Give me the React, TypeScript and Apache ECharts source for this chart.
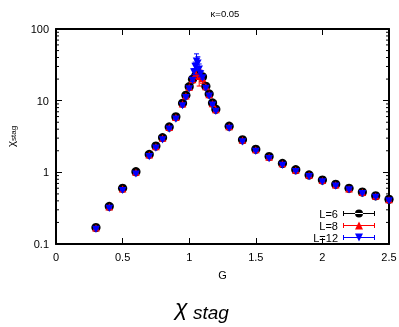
import React, { useEffect, useRef } from "react";
import * as echarts from "echarts";

// ---- data ----
const G_L6 = [0.3, 0.4, 0.5, 0.6, 0.7, 0.75, 0.8, 0.85, 0.9, 0.95, 0.975, 1.0, 1.025, 1.05, 1.075, 1.1, 1.125, 1.15, 1.175, 1.2, 1.3, 1.4, 1.5, 1.6, 1.7, 1.8, 1.9, 2.0, 2.1, 2.2, 2.3, 2.4, 2.5];
const CHI_L6 = [0.17, 0.335, 0.6, 1.02, 1.78, 2.33, 3.05, 4.3, 5.95, 9.2, 11.9, 15.7, 19.9, 22.5, 23.0, 21.5, 15.9, 12.4, 9.3, 7.6, 4.4, 2.85, 2.1, 1.66, 1.33, 1.09, 0.92, 0.78, 0.68, 0.6, 0.53, 0.47, 0.42];
const ERR_L6 = [0.003, 0.005, 0.008, 0.01, 0.02, 0.02, 0.03, 0.04, 0.06, 0.1, 0.15, 0.2, 0.3, 0.5, 0.6, 0.5, 0.3, 0.2, 0.1, 0.08, 0.04, 0.03, 0.02, 0.02, 0.01, 0.01, 0.01, 0.01, 0.01, 0.01, 0.01, 0.01, 0.01];

const G_L8 = [0.3, 0.4, 0.5, 0.6, 0.7, 0.75, 0.8, 0.85, 0.9, 0.95, 0.975, 1.0, 1.025, 1.05, 1.075, 1.1, 1.125, 1.15, 1.175, 1.2, 1.3, 1.4, 1.5, 1.6, 1.7, 1.8, 1.9, 2.0, 2.1, 2.2, 2.3, 2.4, 2.5];
const CHI_L8 = [0.166, 0.326, 0.58, 0.99, 1.73, 2.26, 2.96, 4.18, 5.78, 8.9, 11.5, 15.2, 19.4, 23.5, 21.5, 20.0, 15.5, 12.0, 9.0, 7.4, 4.28, 2.77, 2.04, 1.61, 1.3, 1.06, 0.9, 0.76, 0.66, 0.58, 0.52, 0.46, 0.41];
const ERR_L8 = [0.004, 0.006, 0.01, 0.02, 0.03, 0.04, 0.05, 0.07, 0.1, 0.2, 0.3, 0.4, 1.0, 3.0, 5.5, 2.5, 0.6, 0.3, 0.2, 0.1, 0.05, 0.03, 0.02, 0.02, 0.01, 0.01, 0.01, 0.01, 0.01, 0.01, 0.01, 0.01, 0.01];

const G_L12 = [0.3, 0.4, 0.5, 0.6, 0.7, 0.75, 0.8, 0.85, 0.9, 0.95, 0.975, 1.0, 1.025, 1.035, 1.045, 1.055, 1.065, 1.075, 1.085, 1.1, 1.125, 1.15, 1.175, 1.2, 1.3, 1.4, 1.5, 1.6, 1.7, 1.8, 1.9, 2.0, 2.1, 2.2, 2.3, 2.4, 2.5];
const CHI_L12 = [0.162, 0.318, 0.565, 0.96, 1.68, 2.2, 2.88, 4.05, 5.6, 8.6, 11.2, 14.8, 19.5, 25.5, 30.5, 36, 34, 28, 24, 21, 15.1, 11.7, 8.8, 7.2, 4.15, 2.7, 1.99, 1.57, 1.27, 1.04, 0.88, 0.745, 0.65, 0.575, 0.51, 0.455, 0.405];
const ERR_L12 = [0.004, 0.006, 0.01, 0.02, 0.03, 0.04, 0.05, 0.07, 0.1, 0.2, 0.3, 0.4, 1.0, 2.5, 4.0, 9.0, 7.0, 4.5, 2.5, 1.0, 0.5, 0.3, 0.2, 0.1, 0.05, 0.03, 0.02, 0.02, 0.01, 0.01, 0.01, 0.01, 0.01, 0.01, 0.01, 0.01, 0.01];

const SERIES_NAMES = ["L=6", "L=8", "L=12"];
const SERIES_COLORS = ["#000000", "#ff0000", "#0000ff"];
const MINOR_TICKS = [0.2, 0.3, 0.4, 0.5, 0.6, 0.7, 0.8, 0.9, 2, 3, 4, 5, 6, 7, 8, 9, 20, 30, 40, 50, 60, 70, 80, 90];
const TITLE = "κ=0.05";

const ICON_CIRCLE = "path://M0 3.5H32V4.5H0Z M0 1.5H1V6.5H0Z M31 1.5H32V6.5H31Z M12 4A4 4 0 1 0 20 4A4 4 0 1 0 12 4Z";
const ICON_UP = "path://M0 3.5H32V4.5H0Z M0 1.5H1V6.5H0Z M31 1.5H32V6.5H31Z M12 8L16 0L20 8Z";
const ICON_DOWN = "path://M0 3.5H32V4.5H0Z M0 1.5H1V6.5H0Z M31 1.5H32V6.5H31Z M12 0L20 0L16 8Z";

type Shape = "circle" | "up" | "down";

function makeRender(shape: Shape, color: string) {
  return (_params: any, api: any) => {
    const x = api.value(0);
    const y = api.value(1);
    const lo = api.value(2);
    const hi = api.value(3);
    const p = api.coord([x, y]);
    const pl = api.coord([x, lo]);
    const ph = api.coord([x, hi]);
    const cap = 2.5;
    const ls = { stroke: color, lineWidth: 1 };
    const children: any[] = [
      { type: "line", shape: { x1: p[0], y1: pl[1], x2: p[0], y2: ph[1] }, style: ls },
      { type: "line", shape: { x1: p[0] - cap, y1: pl[1], x2: p[0] + cap, y2: pl[1] }, style: ls },
      { type: "line", shape: { x1: p[0] - cap, y1: ph[1], x2: p[0] + cap, y2: ph[1] }, style: ls },
    ];
    if (shape === "circle") {
      children.push({ type: "circle", shape: { cx: p[0], cy: p[1], r: 4.6 }, style: { fill: color } });
    } else if (shape === "up") {
      children.push({
        type: "polygon",
        shape: { points: [[p[0] - 3.8, p[1] + 3.2], [p[0], p[1] - 4], [p[0] + 3.8, p[1] + 3.2]] },
        style: { fill: color },
      });
    } else {
      children.push({
        type: "polygon",
        shape: { points: [[p[0] - 3.8, p[1] - 3.2], [p[0] + 3.8, p[1] - 3.2], [p[0], p[1] + 4]] },
        style: { fill: color },
      });
    }
    return { type: "group", children };
  };
}

function build(gs: number[], vals: number[], errs: number[]) {
  return gs.map((g, i) => [g, vals[i], vals[i] - errs[i], vals[i] + errs[i]]);
}

export default function App() {
  const ref = useRef<HTMLDivElement>(null);
  useEffect(() => {
    if (!ref.current) return;
    document.body.style.margin = "0";
    const chart = echarts.init(ref.current, null, { renderer: "svg" });
    const font = "Liberation Sans, Arial, Helvetica, sans-serif";
    const axisLine = { show: true, onZero: false, lineStyle: { color: "#000", width: 2 } };
    const axisTick = { show: true, inside: true, length: 6, lineStyle: { color: "#000", width: 1 } };
    const datasets = [
      build(G_L6, CHI_L6, ERR_L6),
      build(G_L8, CHI_L8, ERR_L8),
      build(G_L12, CHI_L12, ERR_L12),
    ];
    const shapes: Shape[] = ["circle", "up", "down"];
    chart.setOption({
      animation: false,
      textStyle: { fontFamily: font },
      grid: { left: 56, right: 10, top: 29, bottom: 83, containLabel: false, outerBoundsMode: "none" },
      graphic: [
        {
          type: "text",
          x: 225,
          y: 13,
          style: { text: TITLE, fontSize: 9.5, fill: "#000", align: "center", verticalAlign: "middle", fontFamily: font },
        },
        {
          type: "text",
          x: 175,
          y: 318,
          style: { text: "χ", fontSize: 23, fontStyle: "italic", fontFamily: font, fill: "#000", align: "left", verticalAlign: "bottom" },
        },
        {
          type: "text",
          x: 193,
          y: 322,
          style: { text: "stag", fontSize: 19, fontStyle: "italic", fontFamily: font, fill: "#000", align: "left", verticalAlign: "bottom" },
        },
      ],
      legend: {
        data: [
          { name: SERIES_NAMES[0], icon: ICON_CIRCLE },
          { name: SERIES_NAMES[1], icon: ICON_UP },
          { name: SERIES_NAMES[2], icon: ICON_DOWN },
        ],
        orient: "vertical",
        right: 24,
        top: 208,
        align: "right",
        itemWidth: 32,
        itemHeight: 8,
        itemGap: 1,
        padding: 0,
        selectedMode: false,
        textStyle: { fontSize: 11, color: "#000", lineHeight: 10, fontFamily: font },
      },
      xAxis: [
        {
          type: "value",
          min: 0,
          max: 2.5,
          interval: 0.5,
          position: "bottom",
          name: "G",
          nameLocation: "middle",
          nameGap: 25,
          nameTextStyle: { fontSize: 11, color: "#000" },
          axisLine,
          axisTick,
          axisLabel: { color: "#000", fontSize: 11, margin: 7 },
          splitLine: { show: false },
        },
        {
          type: "value",
          min: 0,
          max: 2.5,
          interval: 0.5,
          position: "top",
          axisLine,
          axisTick,
          axisLabel: { show: false },
          splitLine: { show: false },
        },
      ],
      yAxis: [
        {
          type: "log",
          logBase: 10,
          min: 0.1,
          max: 100,
          position: "left",
          name: "{a|χ}{b|stag}",
          nameLocation: "middle",
          nameGap: 39,
          nameRotate: 90,
          nameTextStyle: {
            color: "#000",
            rich: {
              a: { fontSize: 11.5, color: "#000", fontFamily: font },
              b: { fontSize: 8, color: "#000", fontFamily: font, padding: [4, 0, 0, 0] },
            },
          },
          axisLine,
          axisTick,
          axisLabel: { color: "#000", fontSize: 11, margin: 7 },
          splitLine: { show: false },
        },
        {
          type: "log",
          logBase: 10,
          min: 0.1,
          max: 100,
          position: "right",
          axisLine,
          axisTick,
          axisLabel: { show: false },
          splitLine: { show: false },
        },
      ],
      series: [
        {
          type: "custom",
          name: "minor",
          silent: true,
          xAxisIndex: 0,
          yAxisIndex: 0,
          data: MINOR_TICKS.map((v) => [0, v]),
          encode: { x: 0, y: 1 },
          renderItem: (_p: any, api: any) => {
            const v = api.value(1);
            const l = api.coord([0, v]);
            const r = api.coord([2.5, v]);
            const st = { stroke: "#000", lineWidth: 1 };
            return {
              type: "group",
              children: [
                { type: "line", shape: { x1: l[0], y1: l[1], x2: l[0] + 3, y2: l[1] }, style: st },
                { type: "line", shape: { x1: r[0], y1: r[1], x2: r[0] - 3, y2: r[1] }, style: st },
              ],
            };
          },
        },
        ...datasets.map((d, i) => ({
          type: "custom",
          name: SERIES_NAMES[i],
          xAxisIndex: 0,
          yAxisIndex: 0,
          itemStyle: { color: SERIES_COLORS[i] },
          data: d,
          encode: { x: 0, y: 1 },
          renderItem: makeRender(shapes[i], SERIES_COLORS[i]),
        })),
      ],
    });
    return () => chart.dispose();
  }, []);
  return <div ref={ref} style={{ position: "fixed", left: 0, top: 0, width: 399, height: 327 }} />;
}
